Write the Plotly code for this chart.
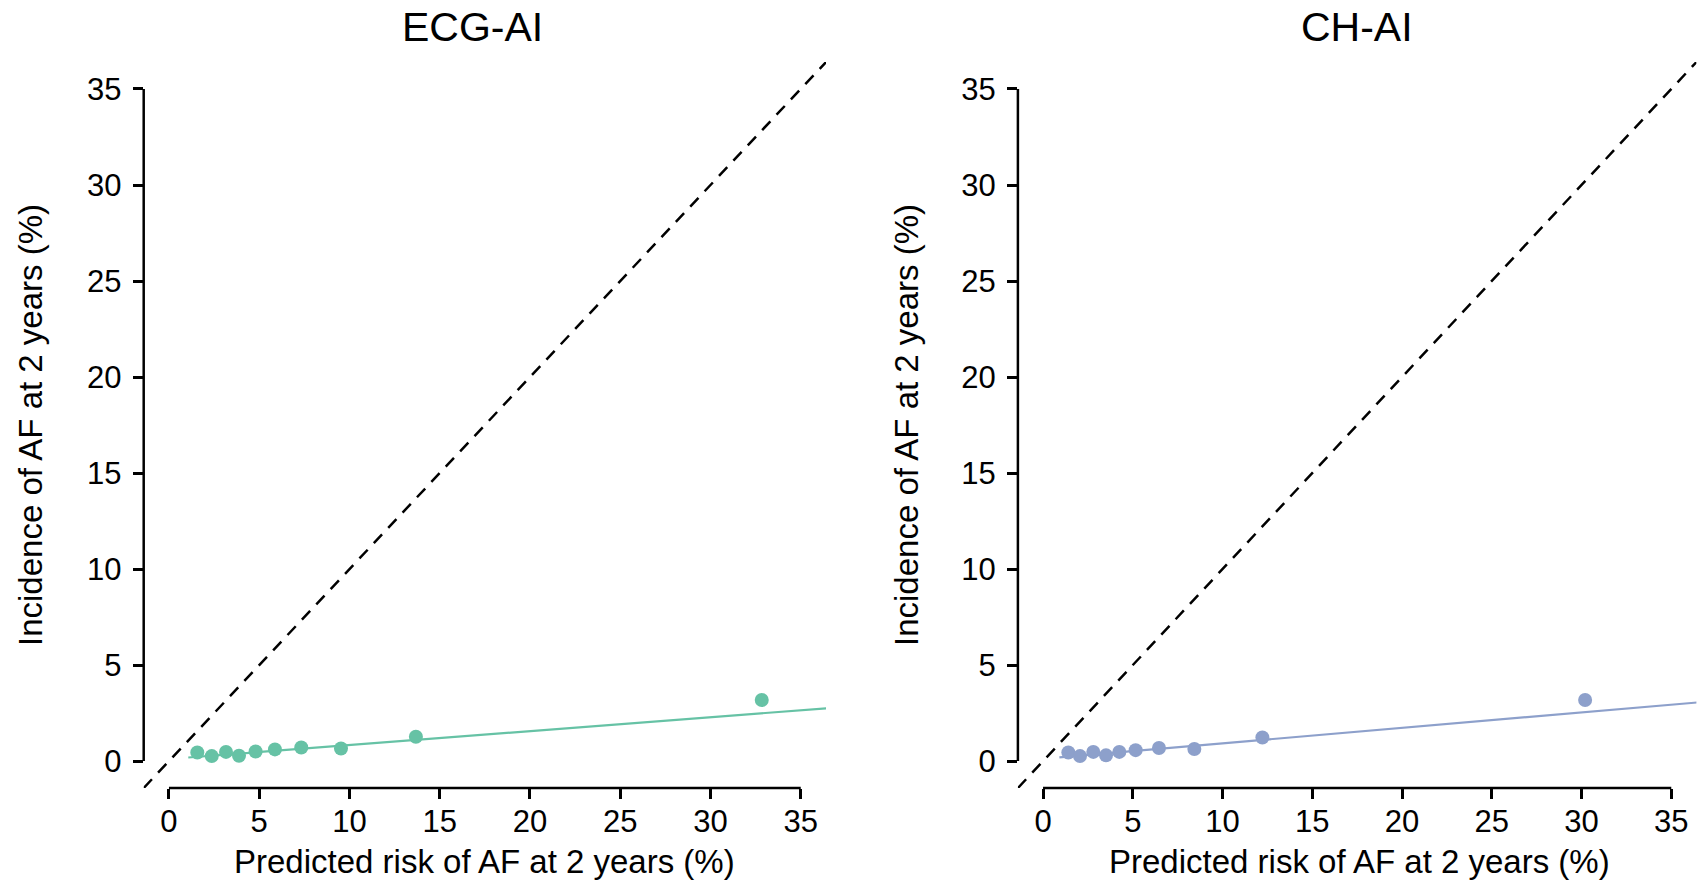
import plotly.graph_objects as go

# ---- data ----
panel_titles = ["ECG-AI", "CH-AI"]
x_title = "Predicted risk of AF at 2 years (%)"
y_title = "Incidence of AF at 2 years (%)"
tick_values = [0, 5, 10, 15, 20, 25, 30, 35]

ecg_pred = [1.57, 2.37, 3.16, 3.88, 4.80, 5.87, 7.33, 9.53, 13.68, 32.84]
ecg_obs = [0.45, 0.26, 0.48, 0.28, 0.50, 0.61, 0.71, 0.66, 1.27, 3.18]
ecg_fit_intercept = 0.11
ecg_fit_slope = 0.0725
ecg_fit_start = 1.07

ch_pred = [1.41, 2.06, 2.80, 3.51, 4.25, 5.16, 6.46, 8.43, 12.22, 30.2]
ch_obs = [0.45, 0.26, 0.48, 0.30, 0.48, 0.57, 0.68, 0.63, 1.23, 3.18]
ch_fit_intercept = 0.12
ch_fit_slope = 0.0805
ch_fit_start = 0.91

colors = ["#66C2A5", "#8DA0CB"]

# ---- layout geometry ----
W, H = 1699, 881
axis_range = [-1.4, 36.4]
FONT = "Liberation Sans, Arial, Helvetica, sans-serif"

def px_x(p):
    return p / W

def px_y(p):
    return 1 - p / H

x_domains = [[px_x(143.7), px_x(826.0)], [px_x(1017.9), px_x(1696.4)]]
y_domain = [px_y(788.0), px_y(62.1)]

fig = go.Figure()

panels = [
    (ecg_pred, ecg_obs, ecg_fit_intercept, ecg_fit_slope, ecg_fit_start),
    (ch_pred, ch_obs, ch_fit_intercept, ch_fit_slope, ch_fit_start),
]

for i, (px_, ob, a, b, xs) in enumerate(panels):
    xa = "x" if i == 0 else "x2"
    ya = "y" if i == 0 else "y2"
    # identity line
    fig.add_trace(go.Scatter(
        x=axis_range, y=axis_range, mode="lines", xaxis=xa, yaxis=ya,
        line=dict(color="black", width=2.5, dash="12px,9px"),
        hoverinfo="skip", showlegend=False))
    # calibration fit line
    xe = axis_range[1] + 2
    fig.add_trace(go.Scatter(
        x=[xs, xe], y=[a + b * xs, a + b * xe], mode="lines",
        xaxis=xa, yaxis=ya, line=dict(color=colors[i], width=2.2),
        showlegend=False))
    # points
    fig.add_trace(go.Scatter(
        x=px_, y=ob, mode="markers", xaxis=xa, yaxis=ya,
        marker=dict(color=colors[i], size=14, line=dict(width=0)),
        showlegend=False))

axis_common = dict(
    range=axis_range, tickvals=tick_values, ticks="outside", ticklen=10,
    tickwidth=2.5, tickcolor="black", showline=False, showgrid=False,
    zeroline=False, tickfont=dict(family=FONT, size=31, color="black"),
    fixedrange=True,
)

fig.update_layout(
    width=W, height=H,
    margin=dict(l=0, r=0, t=0, b=0),
    paper_bgcolor="white", plot_bgcolor="white",
    font=dict(family=FONT, color="black"),
    xaxis=dict(domain=x_domains[0], anchor="y", ticklabelstandoff=-4, **axis_common),
    yaxis=dict(domain=y_domain, anchor="x", ticklabelstandoff=5, **axis_common),
    xaxis2=dict(domain=x_domains[1], anchor="y2", ticklabelstandoff=-4, **axis_common),
    yaxis2=dict(domain=y_domain, anchor="x2", ticklabelstandoff=5, **axis_common),
)

shapes = []
for xr, yr in [("x", "y"), ("x2", "y2")]:
    shapes.append(dict(type="line", xref=xr, yref=yr + " domain",
                       x0=tick_values[0], x1=tick_values[-1], y0=0, y1=0,
                       line=dict(color="black", width=2.5)))
    shapes.append(dict(type="line", xref=xr + " domain", yref=yr,
                       x0=0, x1=0, y0=tick_values[0], y1=tick_values[-1],
                       line=dict(color="black", width=2.5)))
fig.update_layout(shapes=shapes)

annotations = []
title_x = [472.5, 1357.0]
xtitle_x = [484.5, 1359.0]
ytitle_x = [30.0, 906.0]
for i in range(2):
    annotations.append(dict(text=panel_titles[i], xref="paper", yref="paper",
                            x=px_x(title_x[i]), y=px_y(26.7), xanchor="center",
                            yanchor="middle", showarrow=False,
                            font=dict(family=FONT, size=41, color="black")))
    annotations.append(dict(text=x_title, xref="paper", yref="paper",
                            x=px_x(xtitle_x[i]), y=px_y(861.0), xanchor="center",
                            yanchor="middle", showarrow=False,
                            font=dict(family=FONT, size=33, color="black")))
    annotations.append(dict(text=y_title, xref="paper", yref="paper",
                            x=px_x(ytitle_x[i]), y=px_y(425.0), xanchor="center",
                            yanchor="middle", showarrow=False, textangle=-90,
                            font=dict(family=FONT, size=33, color="black")))
fig.update_layout(annotations=annotations)

fig.write_html("out.html")
